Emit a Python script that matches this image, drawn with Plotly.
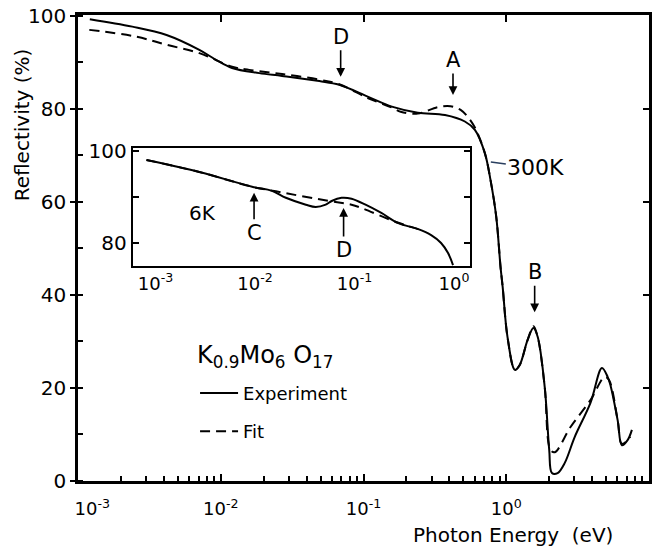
import plotly.graph_objects as go

# ---------------- data (300 K, main panel) ----------------
exp_e = [1.21e-3, 2.40e-3, 4.17e-3, 7.08e-3, 9.33e-3, 1.20e-2, 1.86e-2, 2.69e-2, 4.90e-2, 6.76e-2,
         0.108, 0.158, 0.240, 0.372, 0.513, 0.603, 0.708, 0.776, 0.851, 0.912, 0.944,
         1.02, 1.15, 1.24, 1.41, 1.55, 1.66, 1.86, 2.00, 2.09, 2.29, 2.57, 3.02, 3.89,
         4.68, 5.13, 5.37, 6.03, 6.46, 7.08, 7.59]
exp_r = [99.3, 97.7, 95.9, 92.7, 90.5, 88.8, 87.7, 87.1, 86.0, 85.2,
         82.6, 80.5, 79.2, 78.7, 77.3, 75.5, 70.5, 64.7, 56.8, 46.0, 41.7,
         31.0, 23.9, 24.9, 30.3, 32.9, 31.0, 20.2, 6.7, 1.7, 1.7, 3.9, 9.5, 16.8,
         24.3, 22.4, 20.6, 13.1, 7.7, 8.8, 11.0]

fit_e = [1.20e-3, 2.51e-3, 4.17e-3, 7.08e-3, 1.20e-2, 1.58e-2, 2.69e-2, 4.90e-2, 6.76e-2,
         0.108, 0.158, 0.182, 0.240, 0.331, 0.407, 0.479, 0.537, 0.603, 0.708, 0.776,
         0.851, 0.912, 0.944, 1.02, 1.15, 1.24, 1.41, 1.55, 1.66, 1.86, 2.04, 2.19,
         2.82, 3.89, 4.90, 5.25, 6.03, 6.46, 7.41]
fit_r = [97.0, 95.6, 93.8, 92.0, 89.1, 88.4, 87.5, 86.3, 85.3,
         82.3, 80.3, 79.4, 79.0, 80.4, 80.6, 79.8, 78.3, 76.0, 70.5, 64.7,
         56.8, 46.0, 41.7, 31.0, 23.9, 24.9, 30.3, 33.3, 31.0, 20.2, 6.7, 6.2,
         11.6, 17.4, 22.4, 21.7, 13.1, 8.0, 9.5]

# ---------------- data (6 K, inset) ----------------
in_exp_e = [8.1e-4, 2.75e-3, 9.33e-3, 1.48e-2, 2.04e-2, 3.24e-2, 4.07e-2, 5.13e-2, 5.89e-2,
            7.41e-2, 9.33e-2, 0.129, 0.186, 0.275, 0.437, 0.589, 0.741, 0.871, 0.977]
in_exp_r = [98.0, 95.4, 92.2, 91.3, 89.8, 88.3, 87.8, 88.3, 89.1,
            89.8, 89.6, 88.3, 86.5, 84.3, 83.0, 81.7, 80.0, 77.8, 75.2]
in_fit_e = [8.1e-4, 2.75e-3, 9.33e-3, 1.62e-2, 5.50e-2, 9.33e-2, 0.117, 0.257, 0.437]
in_fit_r = [98.0, 95.4, 92.2, 91.2, 89.1, 88.3, 87.6, 84.6, 83.0]

x_major = [1e-3, 1e-2, 1e-1, 1, 10]
x_labels = ["\u00a0\u00a0\u00a0\u00a0\u00a010<sup>-3</sup>", "10<sup>-2</sup>", "10<sup>-1</sup>",
            "10<sup>0</sup>", "10<sup>1</sup>"]
inset_major = [1e-3, 1e-2, 1e-1, 1]
inset_labels = ["10<sup>-3</sup>", "10<sup>-2</sup>", "10<sup>-1</sup>", "10<sup>0</sup>"]
x_minor = [m * d for d in [1e-3, 1e-2, 1e-1, 1] for m in range(2, 10)]

FONT = "DejaVu Sans"
solid = dict(color="black", width=2)
dashed = dict(color="black", width=2, dash="10px,6px")

fig = go.Figure()
fig.add_trace(go.Scatter(x=exp_e, y=exp_r, mode="lines", line=solid, name="Experiment",
                         line_shape="spline", legendgroup="a"))
fig.add_trace(go.Scatter(x=fit_e, y=fit_r, mode="lines", line=dashed, name="Fit",
                         line_shape="spline", legendgroup="b"))
# overlay axes (top / right ticks)
fig.add_trace(go.Scatter(x=[], y=[], xaxis="x2", yaxis="y2", showlegend=False, hoverinfo="skip"))
# inset
fig.add_trace(go.Scatter(x=in_exp_e, y=in_exp_r, mode="lines", line=solid, line_shape="spline",
                         xaxis="x3", yaxis="y3", showlegend=False))
fig.add_trace(go.Scatter(x=in_fit_e, y=in_fit_r, mode="lines", line=dashed, line_shape="spline",
                         xaxis="x3", yaxis="y3", showlegend=False))

fig.update_layout(
    width=654, height=546,
    margin=dict(l=78, r=2, t=15, b=65),
    paper_bgcolor="white", plot_bgcolor="white",
    font=dict(family=FONT, color="black", size=18),
    xaxis=dict(type="log", range=[-3, 1], showline=True, linewidth=2.5, linecolor="black",
               mirror=True, ticks="inside", ticklen=7, tickwidth=1.5, tickcolor="black",
               tickvals=x_major, ticktext=x_labels, tickfont=dict(size=18),
               ticklabelstandoff=10,
               showgrid=False, zeroline=False,
               minor=dict(tickvals=x_minor, ticks="inside", ticklen=5, tickwidth=1.5,
                          tickcolor="black", showgrid=False)),
    yaxis=dict(range=[0, 100.2], showline=True, linewidth=2.5, linecolor="black", mirror=True,
               ticks="outside", ticklen=5, tickwidth=1.5, tickcolor="black",
               tickvals=[0, 20, 40, 60, 80, 100], tickfont=dict(size=20),
               showgrid=False, zeroline=False,
               minor=dict(dtick=10, ticks="inside", ticklen=5, tickwidth=1.5,
                          tickcolor="black", showgrid=False)),
    xaxis2=dict(type="log", overlaying="x", matches="x", side="top", anchor="y2",
                ticks="inside", ticklen=7, tickwidth=1.5, tickcolor="black",
                tickvals=x_major, showticklabels=False, showgrid=False, zeroline=False,
                showline=False),
    yaxis2=dict(overlaying="y", matches="y", side="right", anchor="x2",
                ticks="inside", ticklen=6, tickwidth=1.5, tickcolor="black",
                tickvals=[20, 40, 60, 80], showticklabels=False, showgrid=False,
                zeroline=False, showline=False),
    xaxis3=dict(type="log", domain=[0.0958, 0.6864], anchor="y3", range=[-3.23, 0.16],
                showline=True, linewidth=2, linecolor="black", mirror=True, ticks="",
                tickvals=inset_major, ticktext=inset_labels, tickfont=dict(size=18),
                showgrid=False, zeroline=False),
    yaxis3=dict(domain=[0.4614, 0.7146], anchor="x3", range=[75, 100.6],
                showline=True, linewidth=2, linecolor="black", mirror="ticks",
                ticks="inside", ticklen=6, tickwidth=1.5, tickcolor="black",
                tickvals=[80, 90, 100], ticktext=["80", "", "100"], tickfont=dict(size=20),
                showgrid=False, zeroline=False),
    showlegend=True,
    legend=dict(x=0.205, y=0.228, xanchor="left", yanchor="top", bgcolor="rgba(0,0,0,0)",
                font=dict(size=18, family=FONT), tracegroupgap=12, itemwidth=38),
)

ann_font = dict(family=FONT, size=21, color="black")
arrow = dict(showarrow=True, arrowhead=2, arrowsize=1.1, arrowwidth=1.6, arrowcolor="black",
             ax=0, font=ann_font)
fig.add_annotation(x=-1.16, y=86.9, text="D", ay=-40, **arrow)
fig.add_annotation(x=-0.373, y=83.0, text="A", ay=-35, **arrow)
fig.add_annotation(x=0.199, y=36.3, text="B", ay=-40, **arrow)
fig.add_annotation(x=-2.01, y=90.9, text="C", ay=40, xref="x3", yref="y3", **arrow)
fig.add_annotation(x=-1.11, y=87.6, text="D", ay=42, xref="x3", yref="y3", **arrow)
fig.add_annotation(x=-0.108, y=68.6, text="300K", showarrow=True, arrowhead=0, arrowwidth=1.5,
                   ax=45, ay=6, font=dict(family=FONT, size=22, color="black"))
fig.add_annotation(x=-2.53, y=86.5, xref="x3", yref="y3", text="6K", showarrow=False,
                   font=dict(family=FONT, size=20, color="black"))
# legend heading (compound formula)
fig.add_annotation(x=(196 - 78) / 574, y=(481 - 356) / 466, xref="paper", yref="paper",
                   xanchor="left", yanchor="middle",
                   text="K<sub>0.9</sub>Mo<sub>6</sub> O<sub>17</sub>", showarrow=False,
                   font=dict(family=FONT, size=24, color="black"))
# axis titles
fig.add_annotation(x=(515 - 78) / 574, y=(481 - 535) / 466, xref="paper", yref="paper",
                   xanchor="center", yanchor="middle",
                   text="Photon Energy\u00a0\u00a0(eV)", showarrow=False,
                   font=dict(family=FONT, size=20, color="black"))
fig.add_annotation(x=(22 - 78) / 574, y=(481 - 125) / 466, xref="paper", yref="paper",
                   xanchor="center", yanchor="middle",
                   text="Reflectivity (%)", textangle=-90, showarrow=False,
                   font=dict(family=FONT, size=20, color="black"))

fig.write_html("out.html")
